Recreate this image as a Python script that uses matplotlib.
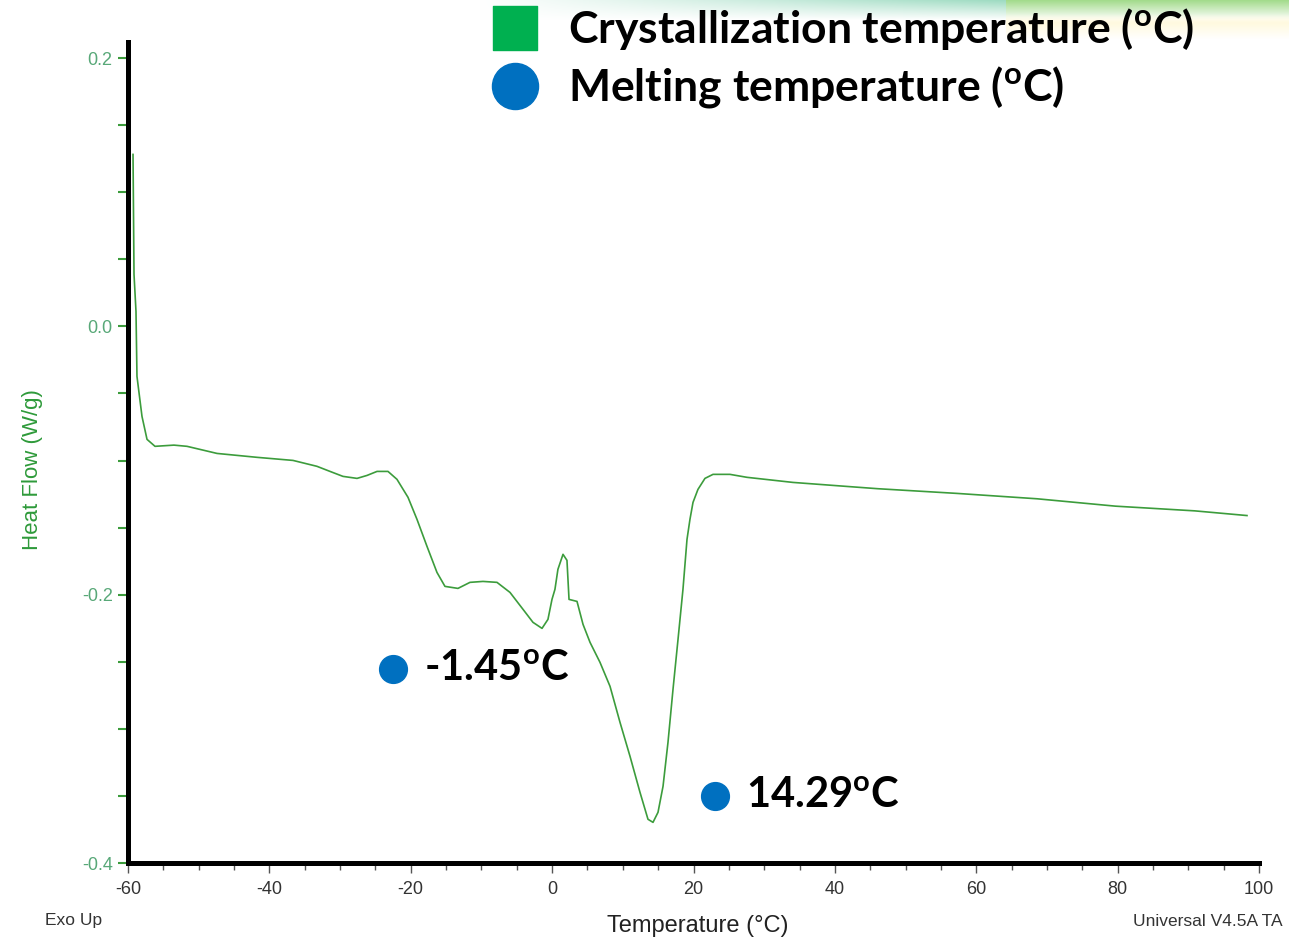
import numpy as np
import matplotlib
matplotlib.use('Agg')
from matplotlib import pyplot as plt
from matplotlib.ticker import MultipleLocator

plt.rcParams['mathtext.fontset'] = 'custom'
plt.rcParams['mathtext.rm'] = 'Lato:bold'
plt.rcParams['mathtext.bf'] = 'Lato:bold'
plt.rcParams['axes.unicode_minus'] = False

# DSC trace (temperature in C, heat flow in W/g)
temp = [-59.29, -59.15, -58.87, -58.73, -58.02, -57.31, -56.18, -53.5, -51.65, -47.40,
        -41.75, -36.66, -33.27, -31.42, -29.59, -27.60, -26.19, -24.77, -23.22, -21.95,
        -20.39, -19.12, -17.70, -16.29, -15.16, -13.32, -11.62, -9.78, -7.80, -5.96,
        -4.12, -2.71, -1.43, -0.59, -0.02, 0.40, 0.82, 1.54, 2.10, 2.39,
        3.52, 4.37, 5.36, 6.77, 8.19, 9.60, 11.02, 12.43, 13.56, 14.27,
        14.98, 15.69, 16.39, 17.10, 17.81, 18.51, 19.08, 19.50, 19.93, 20.63,
        21.62, 22.76, 25.16, 27.56, 34.07, 41.71, 46.1, 57.3, 68.6, 79.7,
        90.9, 98.3]
heat_flow = [0.1282, 0.0388, 0.0112, -0.0373, -0.0671, -0.0842, -0.0894, -0.0885, -0.0894, -0.0947,
             -0.0976, -0.0999, -0.1043, -0.1081, -0.1118, -0.1133, -0.1111, -0.1081, -0.1081, -0.1140,
             -0.1274, -0.1438, -0.1640, -0.1834, -0.1938, -0.1953, -0.1908, -0.1901, -0.1908, -0.1983,
             -0.2109, -0.2206, -0.2251, -0.2184, -0.2035, -0.1960, -0.1811, -0.1699, -0.1744, -0.2035,
             -0.2050, -0.2221, -0.2355, -0.2504, -0.2683, -0.2951, -0.3205, -0.3473, -0.3674, -0.3697,
             -0.3622, -0.3428, -0.3101, -0.2706, -0.2333, -0.1960, -0.1588, -0.1438, -0.1312, -0.1215,
             -0.1133, -0.1103, -0.1103, -0.1125, -0.1163, -0.1193, -0.1210, -0.1245, -0.1285, -0.1340,
             -0.1375, -0.1410]

# melting point callouts: label, dot position (C, W/g)
melt_labels = ['-1.45', '14.29']
melt_dot_x = [-22.5, 23.0]
melt_dot_y = [-0.2556, -0.350]

legend_labels = ['Crystallization temperature', 'Melting temperature']

GREEN = '#3c9c3c'
BLUE = '#0070C0'

fig = plt.figure(figsize=(12.89, 9.43), dpi=100)

# faint slide decoration in the top right corner
bg = fig.add_axes([480/1289, 1 - 40/943, 809/1289, 40/943])
w, h = 809, 40
xx = np.linspace(0, 1, w)
yy = np.linspace(0, 1, h)[:, None]
teal = np.array([0.62, 0.86, 0.76])
lgreen = np.array([0.64, 0.86, 0.55])
cream = np.array([1.0, 0.98, 0.88])
left_part = (xx < 0.65)[None, :, None]
fade = np.clip(xx / 0.65, 0, 1)[None, :, None]
band = np.clip(1 - yy / 0.5, 0, 1)[:, :, None]
top = np.where(left_part, 1 - (1 - teal) * fade, lgreen)
img = 1 - (1 - top) * band
lower = np.clip((yy - 0.35) / 0.2, 0, 1)[:, :, None] * np.clip(1 - (yy - 0.6) / 0.4, 0, 1)[:, :, None]
img = np.where(~left_part, img * (1 - lower) + cream * lower, img)
bg.imshow(img, aspect='auto', extent=[0, 1, 0, 1])
bg.axis('off')

ax = fig.add_axes([128/1289, 1 - 863/943, 1131/1289, 821/943])
ax.plot(temp, heat_flow, color=GREEN, lw=1.2)

ax.set_xlim(-60, 100)
ax.set_ylim(-0.4, 0.212)
ax.xaxis.set_major_locator(MultipleLocator(20))
ax.xaxis.set_minor_locator(MultipleLocator(5))
ax.yaxis.set_major_locator(MultipleLocator(0.2))
ax.yaxis.set_minor_locator(MultipleLocator(0.05))
ax.yaxis.set_major_formatter(matplotlib.ticker.FormatStrFormatter('%.1f'))

for s in ['top', 'right']:
    ax.spines[s].set_visible(False)
for s in ['left', 'bottom']:
    ax.spines[s].set_linewidth(3.6)
    ax.spines[s].set_color('black')

ax.tick_params(axis='x', which='both', direction='out', color='#555555', width=1,
               labelsize=13, labelcolor='#333333', pad=6)
ax.tick_params(axis='x', which='major', length=7)
ax.tick_params(axis='x', which='minor', length=5)
ax.tick_params(axis='y', which='both', direction='out', color=GREEN, width=1.5,
               labelsize=13, labelcolor='#58a878', length=7, pad=4)
for lab in ax.get_xticklabels() + ax.get_yticklabels():
    lab.set_family('Liberation Sans')

ax.set_ylabel('Heat Flow (W/g)', color='#2e9a3a', fontsize=16, family='Liberation Sans')
ax.yaxis.set_label_coords(-0.075, 0.479)

fig.text(698/1289, 1 - 926/943, 'Temperature (°C)', ha='center', va='center',
         fontsize=17, family='Liberation Sans', color='#222222')
fig.text(45/1289, 1 - 921/943, 'Exo Up', ha='left', va='center',
         fontsize=12.5, family='Liberation Sans', color='#333333')
fig.text(1283/1289, 1 - 921/943, 'Universal V4.5A TA', ha='right', va='center',
         fontsize=12.5, family='Liberation Sans', color='#333333')

# melting point callouts
ax.scatter(melt_dot_x, melt_dot_y, s=400, color=BLUE, zorder=5, clip_on=False)
for lab, x, y in zip(melt_labels, melt_dot_x, melt_dot_y):
    ax.text(x + 4.4, y, lab + r'$^{\mathbf{o}}$C', ha='left', va='center',
            fontsize=30, family='Lato', weight='bold', color='black')

# legend at top of the slide
leg = fig.add_axes([0, 0, 1, 1], facecolor='none')
leg.set_xlim(0, 1289)
leg.set_ylim(943, 0)
leg.axis('off')
leg.scatter([514.5], [27.5], marker='s', s=1000, color='#00B050')
leg.scatter([515], [86], marker='o', s=1100, color=BLUE)
leg.text(568, 29, legend_labels[0] + r' ($^{\mathbf{o}}$C)', ha='left', va='center',
         fontsize=32, family='Lato', weight='bold', color='black')
leg.text(568, 87, legend_labels[1] + r' ($^{\mathbf{o}}$C)', ha='left', va='center',
         fontsize=32, family='Lato', weight='bold', color='black')

fig.savefig('out.png', dpi=100)
